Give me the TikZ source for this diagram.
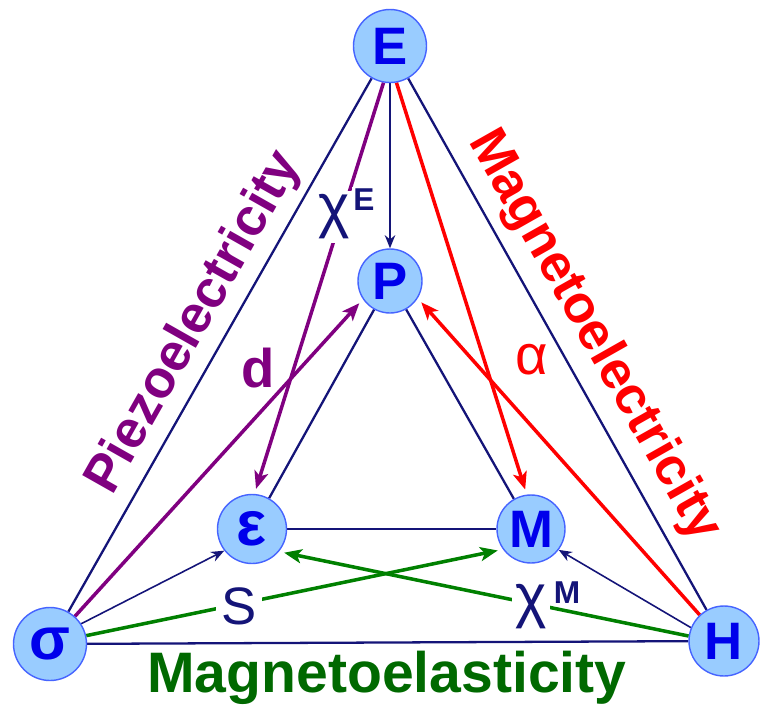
\documentclass[tikz,border=0pt]{standalone}
\usepackage{fontspec}
\setmainfont{Liberation Sans}
\usetikzlibrary{arrows.meta,backgrounds}
\definecolor{navyc}{RGB}{20,20,120}
\definecolor{purp}{RGB}{128,0,128}
\definecolor{redc}{RGB}{255,0,0}
\definecolor{greenc}{RGB}{0,128,0}
\definecolor{dgreen}{RGB}{0,105,0}
\definecolor{cfill}{RGB}{153,204,255}
\definecolor{cdraw}{RGB}{70,100,255}
\definecolor{ctext}{RGB}{0,0,235}
\begin{document}
\begin{tikzpicture}[x=0.02cm,y=-0.02cm,
  vtx/.style={circle, fill=cfill, draw=cdraw, line width=0.8pt, text=ctext,
    font=\fontsize{30}{30}\selectfont\bfseries, inner sep=0pt},
  edge/.style={navyc, line width=1.3pt},
  thinarrow/.style={navyc, line width=0.9pt, -{Stealth[length=7.5pt,width=6pt]}},
  colarrow/.style={line width=2pt, -{Stealth[length=10pt,width=8pt,inset=2.5pt]}, shorten >=3pt},
  bigtext/.style={font=\fontsize{30}{30}\selectfont\bfseries},
  lbl/.style={fill=white, inner sep=1pt, text=navyc},
  supr/.style={fill=white, inner sep=1pt, text=navyc, font=\fontsize{18}{18}\selectfont\bfseries}
]
\useasboundingbox (0,0) rectangle (762,707);
% vertices
\node[vtx, minimum size=1.46cm] (E) at (390,46) {E};
\node[vtx, minimum size=1.28cm] (P) at (390,281) {P};
\node[vtx, minimum size=1.38cm, font=\fontsize{36}{36}\selectfont\bfseries] (eps) at (252,529) {ε};
\node[vtx, minimum size=1.36cm] (M) at (531,529) {M};
\node[vtx, minimum size=1.46cm, font=\fontsize{34}{34}\selectfont\bfseries] (sig) at (50,644) {σ};
\node[vtx, minimum size=1.40cm] (H) at (724,641) {H};

\begin{scope}[on background layer]
% navy triangles
\draw[edge] (E) -- (sig);
\draw[edge] (E) -- (H);
\draw[edge] (sig) -- (H);
\draw[edge] (P) -- (eps);
\draw[edge] (P) -- (M);
\draw[edge] (eps) -- (M);
% thin navy arrows
\draw[thinarrow] (E) -- (P);
\draw[thinarrow] (sig.33) -- (eps.218);
\draw[thinarrow] (H.158) -- (M.-37);
% coloured arrows
\draw[colarrow, purp] (sig.48) -- (P.214);
\draw[colarrow, purp] (E.260) -- (eps.86);
\draw[colarrow, redc] (E.280) -- (M.97);
\draw[colarrow, redc] (H.133) -- (P.-32);
\draw[colarrow, greenc] (sig.13) -- (M.216);
\draw[colarrow, greenc] (H.172) -- (eps.-40);
% labels on lines
\node[lbl, font=\fontsize{34}{34}\selectfont, inner sep=2pt] (xe) at (334,217) {χ};
\node[supr] (xesup) at (364,200) {E};
\node[lbl, font=\fontsize{34}{34}\selectfont, inner sep=2pt] (xm) at (531,607) {χ};
\node[supr] (xmsup) at (567,593) {M};
\node[lbl, font=\fontsize{30}{30}\selectfont, inner sep=3pt] (s) at (239,606) {S};
\end{scope}

\node[text=purp, font=\fontsize{31}{31}\selectfont\bfseries] (d) at (258,368) {d};
\node[text=redc, font=\fontsize{32}{32}\selectfont] (alpha) at (532,360) {α};

% big labels
\node[bigtext, text=purp, rotate=60.5] (piezo) at (195,323) {Piezoelectricity};
\node[bigtext, text=redc, rotate=-60.5] (magel) at (594,336) {Magnetoelectricity};
\node[font=\fontsize{32.5}{32.5}\selectfont\bfseries, text=dgreen] (magela) at (387,678) {Magnetoelasticity};
\end{tikzpicture}
\end{document}
